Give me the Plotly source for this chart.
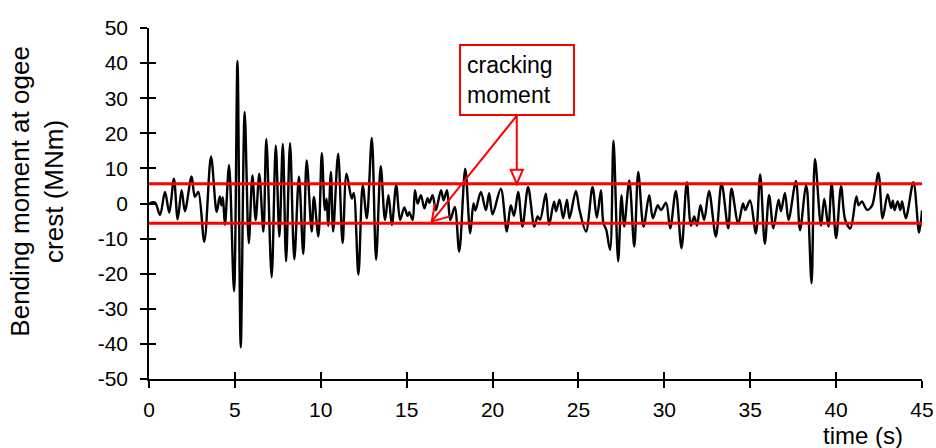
import plotly.graph_objects as go

# ---- data ----
time_s = [
    0, 0.35, 0.64, 0.93, 1.18, 1.45, 1.67, 1.9, 2.09, 2.48, 2.67, 2.87, 3.22, 3.61,
    3.94, 4.12, 4.22, 4.3, 4.42, 4.66, 4.95, 5.15, 5.34, 5.57, 5.81, 6.02, 6.21, 6.42,
    6.66, 6.83, 7.14, 7.38, 7.59, 7.79, 7.98, 8.21, 8.46, 8.73, 8.98, 9.18, 9.47, 9.6,
    9.86, 10.06, 10.24, 10.34, 10.43, 10.59, 10.72, 11.01, 11.27, 11.5, 11.8, 11.92,
    12.19, 12.44, 12.68, 12.97, 13.22, 13.49, 13.74, 13.94, 14.14, 14.39, 14.62, 14.86,
    15.05, 15.15, 15.35, 15.48, 15.64, 15.83, 16.03, 16.22, 16.32, 16.51, 16.7, 17.0,
    17.15, 17.35, 17.54, 17.8, 18.06, 18.41, 18.7, 18.89, 19.0, 19.32, 19.61, 19.8,
    20.0, 20.48, 20.83, 21.06, 21.25, 21.49, 21.74, 22.07, 22.43, 22.62, 22.77, 23.1,
    23.29, 23.58, 23.7, 23.9, 24.11, 24.33, 24.48, 24.85, 25.06, 25.44, 25.82, 26.07,
    26.31, 26.45, 26.62, 26.84, 27.04, 27.31, 27.51, 27.66, 27.96, 28.25, 28.48, 28.79,
    29.12, 29.33, 29.62, 29.8, 30.1, 30.34, 30.67, 31.0, 31.31, 31.55, 31.74, 31.9,
    32.1, 32.32, 32.6, 33.0, 33.33, 33.72, 33.91, 34.3, 34.58, 34.71, 34.99, 35.33,
    35.58, 35.85, 36.1, 36.35, 36.65, 36.79, 37.02, 37.23, 37.66, 37.9, 38.24, 38.32,
    38.57, 38.77, 39.12, 39.31, 39.55, 39.74, 40.0, 40.29, 40.53, 40.83, 41.18, 41.31,
    41.5, 41.8, 42.09, 42.46, 42.71, 43.0, 43.2, 43.3, 43.4, 43.58, 43.74, 43.84,
    44.06, 44.5, 44.83, 45.0,
]
moment_MNm = [
    0, 0.3, -3.3, 3.3, -2.6, 7.1, -4.5, 3.8, -2.2, 7.7, 1.9, 3.3, -10.9, 13.4,
    -2.4, 2.0, -0.5, 1.8, -6.1, 11.0, -25.0, 40.6, -41.0, 26.1, -11.3, 8.0, -4.7, 8.5,
    -8.0, 18.4, -21.0, 16.5, -9.4, 17.0, -16.5, 17.2, -15.9, 7.7, -14.4, 12.3, -8.0, 1.9,
    -9.4, 14.3, -1.9, 1.4, -6.4, 9.0, -8.0, 14.2, -11.3, 8.5, 1.4, 3.0,
    -20.3, 5.2, -4.2, 18.7, -16.0, 10.6, -4.7, 2.4, -6.1, 5.2, -4.7, -1.1,
    -3.5, -2.5, -4.7, 3.8, 0.0, 2.4, -1.4, 1.5, 0.2, 2.4, -1.9, 3.8,
    0.9, 3.8, -4.7, -1.0, -13.7, 9.9, -8.5, 0.0, -2.0, 3.3, -1.9, 2.9,
    -3.1, 4.2, -8.0, -0.5, -3.5, 3.3, -6.6, 4.7, -6.6, -3.7, -4.6, 2.8,
    -6.1, 0.5, -2.2, 1.1, -4.2, 1.1, -4.2, 3.6, -1.8, -8.0, 4.7, -4.0,
    3.8, -5.5, -7.5, -13.2, 17.9, -16.5, 2.4, -6.6, 6.6, -12.3, 9.0, -6.6,
    2.4, -4.2, -0.5, -1.9, 0.2, -7.1, 3.6, -12.7, 6.1, -6.3, -3.7, -6.3,
    -0.5, -4.7, 3.6, -9.4, 5.8, -7.1, 4.2, -5.7, 0.0, -1.9, 0.9, -8.5,
    8.3, -11.5, 2.4, -7.1, 1.1, -2.2, 3.0, -4.7, 6.4, -7.6, 5.2, 3.5,
    -22.7, 12.7, -6.3, 1.4, -6.6, 5.8, -9.9, 4.9, -4.7, -7.1, 2.0, -0.5,
    0.6, -1.8, -0.6, 8.7, -4.2, 2.6, -1.3, 0.8, -1.9, 0.6, -1.9, 0.6,
    -4.2, 6.1, -8.3, -2.0,
]
cracking_moment = 5.6          # MNm, drawn as +/- lines
x_range = [0, 45]
y_range = [-50, 50]
x_tickvals = [0, 5, 10, 15, 20, 25, 30, 35, 40, 45]
y_tickvals = [-50, -40, -30, -20, -10, 0, 10, 20, 30, 40, 50]
y_ticktext = [str(v) for v in y_tickvals]   # plain hyphen minus, as in the reference

# annotation anchor positions (data coords)
label_t, label_v = 21.41, 35.27      # centre of the "cracking moment" box
stem_t, stem_v = 21.41, 25.0         # bottom centre of the box
tip_lower_t, tip_lower_v = 16.46, -5.1

FONT = "Arial, 'Liberation Sans', sans-serif"

fig = go.Figure()
fig.add_trace(go.Scatter(
    x=time_s, y=moment_MNm, mode="lines",
    line=dict(color="black", width=2.4, shape="spline", smoothing=0.9),
    showlegend=False, hoverinfo="skip"))
for sign in (1, -1):
    fig.add_trace(go.Scatter(
        x=x_range, y=[sign * cracking_moment] * 2, mode="lines",
        line=dict(color="#ff0000", width=3), showlegend=False, hoverinfo="skip"))
# dummy trace for overlay axes carrying the inner half of the crossing ticks
fig.add_trace(go.Scatter(x=[None], y=[None], xaxis="x2", yaxis="y2",
                         showlegend=False, hoverinfo="skip"))

axis_common = dict(showgrid=False, zeroline=False, linecolor="black", linewidth=1.6,
                   tickcolor="black", tickwidth=1.6, ticklen=7, automargin=False,
                   tickfont=dict(family=FONT, size=21, color="black"))
fig.update_layout(
    width=936, height=448,
    margin=dict(l=149, r=14, t=28, b=69, pad=0, autoexpand=False),
    paper_bgcolor="white", plot_bgcolor="white",
    xaxis=dict(range=x_range, tickvals=x_tickvals, ticks="outside", showline=True,
               ticklabelstandoff=4, **axis_common),
    yaxis=dict(range=y_range, tickvals=y_tickvals, ticktext=y_ticktext, ticks="outside",
               showline=True, ticklabelstandoff=8, **axis_common),
    xaxis2=dict(range=x_range, tickvals=x_tickvals, ticks="inside", overlaying="x",
                anchor="y2", side="bottom", showline=False, showticklabels=False,
                showgrid=False, zeroline=False, tickcolor="black", tickwidth=1.6, ticklen=7),
    yaxis2=dict(range=y_range, tickvals=y_tickvals, ticks="inside", overlaying="y",
                anchor="x2", side="left", showline=False, showticklabels=False,
                showgrid=False, zeroline=False, tickcolor="black", tickwidth=1.6, ticklen=7),
)

red = "#ff0000"
shapes = [
    # vertical arrow shaft
    dict(type="line", xref="x", yref="y", x0=stem_t, y0=stem_v, x1=stem_t, y1=cracking_moment,
         line=dict(color=red, width=2)),
    # diagonal arrow shaft
    dict(type="line", xref="x", yref="y", x0=stem_t, y0=stem_v, x1=tip_lower_t, y1=tip_lower_v,
         line=dict(color=red, width=2)),
    # open triangle head on vertical arrow
    dict(type="path", xref="x", yref="y", xsizemode="pixel", ysizemode="pixel",
         xanchor=stem_t, yanchor=cracking_moment,
         path="M0,0 L-6,14 L6,14 Z", fillcolor="white", line=dict(color=red, width=2)),
    # open head on diagonal arrow
    dict(type="path", xref="x", yref="y", xsizemode="pixel", ysizemode="pixel",
         xanchor=tip_lower_t, yanchor=tip_lower_v,
         path="M3.3,18.4 L0,0 L18.3,5", line=dict(color=red, width=2)),
]
fig.update_layout(shapes=shapes)

fig.add_annotation(
    x=label_t, y=label_v, xref="x", yref="y", showarrow=False,
    text="cracking<br>moment", align="left", valign="middle",
    width=100, height=56, borderpad=6, borderwidth=2, bordercolor=red, bgcolor="white",
    font=dict(family=FONT, size=23, color="black"))
fig.add_annotation(
    x=0.9234, y=-0.161, xref="paper", yref="paper", showarrow=False,
    xanchor="center", yanchor="middle", text="time (s)",
    font=dict(family=FONT, size=24, color="black"))
fig.add_annotation(
    x=-0.1443, y=0.535, xref="paper", yref="paper", showarrow=False,
    xanchor="center", yanchor="middle", textangle=-90,
    text="Bending moment at ogee<br>crest (MNm)",
    font=dict(family=FONT, size=26, color="black"))

fig.write_html("out.html")
